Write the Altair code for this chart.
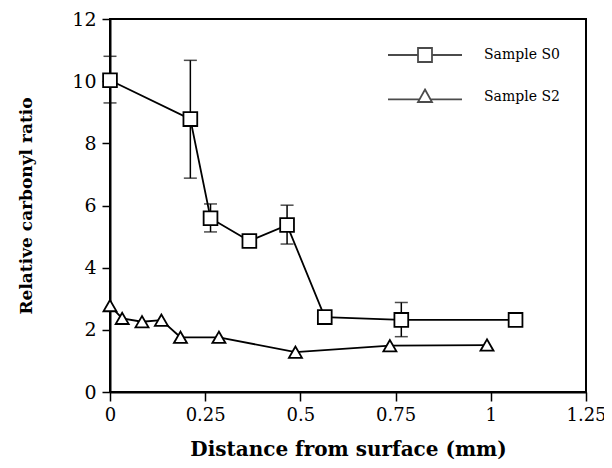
import altair as alt
import pandas as pd

# Sample S0 (squares)
s0_x = [0.0, 0.211, 0.264, 0.366, 0.465, 0.564, 0.765, 1.065]
s0_y = [10.03, 8.78, 5.59, 4.86, 5.37, 2.41, 2.32, 2.32]
# error bars for S0
err_x = [0.0, 0.211, 0.264, 0.465, 0.765]
err_lo = [9.30, 6.88, 5.15, 4.76, 1.78]
err_hi = [10.80, 10.67, 6.05, 6.01, 2.88]

# Sample S2 (triangles)
s2_x = [0.0, 0.032, 0.084, 0.135, 0.185, 0.286, 0.487, 0.735, 0.99]
s2_y = [2.78, 2.37, 2.26, 2.31, 1.76, 1.76, 1.28, 1.49, 1.51]

series = ["Sample S0", "Sample S2"]
x_ticks = [0, 0.25, 0.5, 0.75, 1, 1.25]
y_ticks = [0, 2, 4, 6, 8, 10, 12]

df = pd.DataFrame(
    {"x": s0_x + s2_x,
     "y": s0_y + s2_y,
     "series": [series[0]] * len(s0_x) + [series[1]] * len(s2_x)}
)
err = pd.DataFrame({"x": err_x, "lo": err_lo, "hi": err_hi})

FONT = "DejaVu Serif"

xs = alt.Scale(domain=[0, 1.25], nice=False, zero=False)
ys = alt.Scale(domain=[0, 12], nice=False)

xax = alt.Axis(values=x_ticks, labelExpr="format(datum.value, '~g')",
               grid=False, tickSize=9, tickColor="black", domainColor="black",
               domainWidth=2, tickWidth=1.5, labelFont=FONT, labelFontSize=18,
               labelColor="black", labelPadding=5, labelFlush=False,
               title="Distance from surface (mm)",
               titleFont=FONT, titleFontSize=20, titleFontWeight="bold", titleColor="black",
               titlePadding=15)
yax = alt.Axis(values=y_ticks, grid=False, tickSize=8, tickColor="black",
               domainColor="black", domainWidth=2, tickWidth=1.5, labelFont=FONT,
               labelFontSize=19, labelColor="black", labelPadding=6, labelFlush=False,
               title="Relative carbonyl ratio", titleFont=FONT, titleFontSize=17,
               titleFontWeight="bold", titleColor="black", titlePadding=36)

base = alt.Chart(df)

lines = base.mark_line(color="black", strokeWidth=1.8).encode(
    x=alt.X("x:Q", scale=xs, axis=xax),
    y=alt.Y("y:Q", scale=ys, axis=yax),
    detail="series:N",
)

bars = alt.Chart(err).mark_rule(color="black", strokeWidth=1.5).encode(
    x=alt.X("x:Q", scale=xs), y=alt.Y("lo:Q", scale=ys), y2="hi:Q")
cap_lo = alt.Chart(err).mark_tick(color="black", orient="horizontal", size=13,
                                  thickness=1.5).encode(
    x=alt.X("x:Q", scale=xs), y=alt.Y("lo:Q", scale=ys))
cap_hi = alt.Chart(err).mark_tick(color="black", orient="horizontal", size=13,
                                  thickness=1.5).encode(
    x=alt.X("x:Q", scale=xs), y=alt.Y("hi:Q", scale=ys))

pts_s0 = base.transform_filter(alt.datum.series == series[0]).mark_point(
    shape="square", filled=False, fill="white", color="black", strokeWidth=1.8,
    size=190, opacity=1).encode(x=alt.X("x:Q", scale=xs), y=alt.Y("y:Q", scale=ys))
pts_s2 = base.transform_filter(alt.datum.series == series[1]).mark_point(
    shape="triangle-up", filled=False, fill="white", color="black", strokeWidth=1.8,
    size=170, opacity=1).encode(x=alt.X("x:Q", scale=xs), y=alt.Y("y:Q", scale=ys))

# legend symbols: a line with the marker on it (path units scaled by sqrt(size)/2)
sq_path = "M-1.233,0H-0.233M0.233,0H1.233M-0.233,-0.233H0.233V0.233H-0.233Z"
tri_path = "M-1.233,0.08H-0.19M0.19,0.08H1.233M0,-0.25L0.233,0.167H-0.233Z"

legend_layer = base.transform_filter("false").mark_point(
    filled=False, color="black", strokeWidth=1.8).encode(
    x=alt.X("x:Q", scale=xs),
    y=alt.Y("y:Q", scale=ys),
    shape=alt.Shape("series:N",
                    scale=alt.Scale(domain=series, range=[sq_path, tri_path]),
                    legend=alt.Legend(title=None, orient="none", legendX=284,
                                      legendY=5, symbolSize=3600,
                                      symbolStrokeWidth=1.8,
                                      symbolStrokeColor="black",
                                      labelFont=FONT, labelFontSize=14,
                                      labelColor="black", labelOffset=28,
                                      rowPadding=0)),
)

chart = alt.layer(bars, cap_lo, cap_hi, lines, pts_s0, pts_s2, legend_layer).properties(
    width=476, height=373,
    autosize=alt.AutoSizeParams(type="none"),
    padding={"left": 102, "top": 11, "right": 18, "bottom": 68},
    background="white",
).configure_view(stroke="black", strokeWidth=2)

chart.save("out.html", embed_options={"renderer": "svg", "actions": False})
